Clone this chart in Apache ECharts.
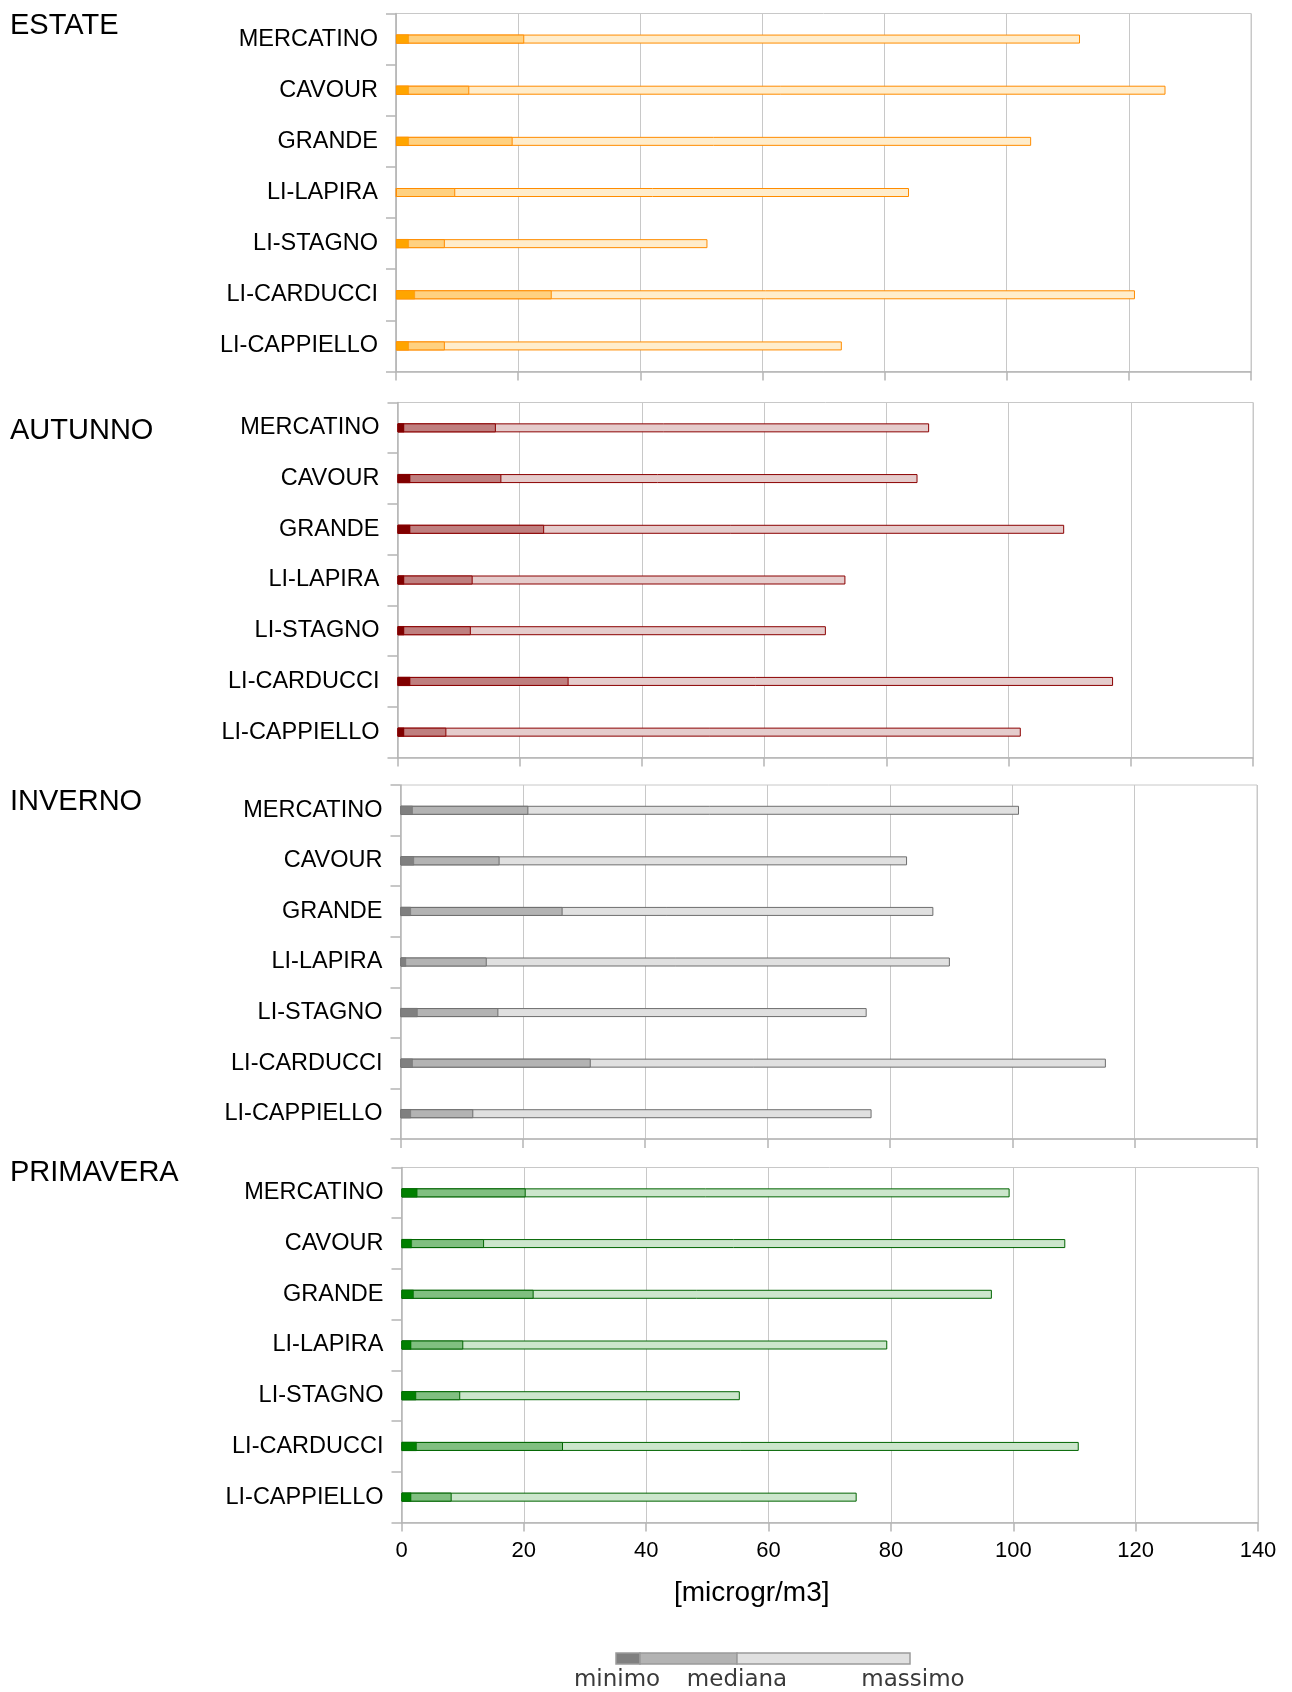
<!DOCTYPE html>
<html>
<head>
<meta charset="utf-8">
<script src="https://cdn.jsdelivr.net/npm/echarts@6/dist/echarts.min.js"></script>
<style>
  html, body { margin: 0; padding: 0; background: #fff; }
  #chart { width: 1292px; height: 1692px; }
</style>
</head>
<body>
<div id="chart"></div>
<script>
// ---- data ----
const categories = ['MERCATINO', 'CAVOUR', 'GRANDE', 'LI-LAPIRA', 'LI-STAGNO', 'LI-CARDUCCI', 'LI-CAPPIELLO'];
const seasons = ['ESTATE', 'AUTUNNO', 'INVERNO', 'PRIMAVERA'];
const legendLabels = ['minimo', 'mediana', 'massimo'];
const axisTitle = '[microgr/m3]';

const estateMin    = [2.1, 2.1, 2.1, 0, 2.1, 3.1, 2.1];
const estateMedian = [21.0, 12.0, 19.1, 9.7, 8.0, 25.5, 8.0];
const estateMax    = [112.0, 126.0, 104.0, 84.0, 51.0, 121.0, 73.0];

const autunnoMin    = [1.1, 2.1, 2.1, 1.1, 1.1, 2.1, 1.1];
const autunnoMedian = [16.1, 17.0, 24.0, 12.3, 12.0, 28.0, 8.0];
const autunnoMax    = [87.0, 85.1, 109.1, 73.3, 70.1, 117.1, 102.0];

const invernoMin    = [2.0, 2.2, 1.7, 0.9, 2.8, 2.0, 1.7];
const invernoMedian = [20.9, 16.2, 26.5, 14.1, 16.0, 31.1, 11.9];
const invernoMax    = [101.1, 82.8, 87.1, 89.8, 76.2, 115.3, 77.0];

const primaveraMin    = [2.6, 1.7, 2.0, 1.6, 2.4, 2.5, 1.6];
const primaveraMedian = [20.3, 13.5, 21.6, 10.1, 9.6, 26.4, 8.2];
const primaveraMax    = [99.4, 108.5, 96.5, 79.4, 55.3, 110.7, 74.4];

const xMin = 0, xMax = 140, xStep = 20;

// ---- layout & style ----
const seasonData = [
  [estateMin, estateMedian, estateMax],
  [autunnoMin, autunnoMedian, autunnoMax],
  [invernoMin, invernoMedian, invernoMax],
  [primaveraMin, primaveraMedian, primaveraMax]
];
const gridBoxes = [
  { left: 396,   right: 41, top: 13.5,  height: 358 },
  { left: 397.5, right: 39, top: 402.5, height: 355 },
  { left: 400.5, right: 35, top: 785,   height: 354 },
  { left: 401.5, right: 34, top: 1167.5, height: 355 }
];
const titleCenters = [25.5, 430.5, 801.5, 1173];
const palettes = [
  { min: '#ffa500', med: '#ffd180', max: '#ffedcc', border: '#ff8c00' },
  { min: '#800000', med: '#bf7f7f', max: '#e5cccc', border: '#8b0000' },
  { min: '#808080', med: '#b3b3b3', max: '#e0e0e0', border: '#6e6e6e' },
  { min: '#008000', med: '#80bf80', max: '#cce6cc', border: '#006400' }
];
const FONT = '"Liberation Sans", Arial, sans-serif';
const axisGray = '#b5b5b5';
const gridGray = '#c8c8c8';

const chart = echarts.init(document.getElementById('chart'), null, { renderer: 'canvas' });

const grid = gridBoxes.map(g => Object.assign({
  show: true, borderColor: gridGray, borderWidth: 1, backgroundColor: 'transparent', containLabel: false
}, g));

const xAxis = gridBoxes.map((g, i) => ({
  type: 'value', gridIndex: i, min: xMin, max: xMax, interval: xStep,
  axisLine: { show: true, lineStyle: { color: axisGray, width: 1.5 } },
  axisTick: { show: true, length: 9, lineStyle: { color: axisGray, width: 1.5 } },
  splitLine: { show: true, lineStyle: { color: gridGray, width: 1 } },
  axisLabel: { show: i === 3, fontSize: 22, color: '#000', margin: 17, fontFamily: FONT },
  name: i === 3 ? axisTitle : '',
  nameLocation: 'middle', nameGap: 57,
  nameTextStyle: { fontSize: 28, color: '#000', fontFamily: FONT, padding: [0, 156, 0, 0] }
}));

const yAxis = gridBoxes.map((g, i) => ({
  type: 'category', gridIndex: i, data: categories, inverse: true,
  axisLine: { show: true, lineStyle: { color: axisGray, width: 1.5 } },
  axisTick: { show: true, length: 10, lineStyle: { color: axisGray, width: 1.5 } },
  splitLine: { show: false },
  axisLabel: { fontSize: 23.5, color: '#000', margin: 18, fontFamily: FONT }
}));

const series = [];
seasonData.forEach((arrs, i) => {
  const p = palettes[i];
  const [mn, md, mx] = arrs;
  const base = { type: 'bar', xAxisIndex: i, yAxisIndex: i, barWidth: 9, barGap: '-100%', silent: true };
  series.push(Object.assign({}, base, { name: legendLabels[2], data: mx, z: 2,
    itemStyle: { color: p.max, borderColor: p.border, borderWidth: 1 } }));
  series.push(Object.assign({}, base, { name: legendLabels[1], data: md, z: 3,
    itemStyle: { color: p.med, borderColor: p.border, borderWidth: 1 } }));
  series.push(Object.assign({}, base, { name: legendLabels[0], data: mn, z: 4,
    itemStyle: { color: p.min, borderColor: p.border, borderWidth: 0.5 } }));
});

const title = seasons.map((s, i) => ({
  text: s, left: 10, top: titleCenters[i] - 14.5, padding: 0,
  textStyle: { fontSize: 29, fontWeight: 'normal', color: '#000', fontFamily: FONT, lineHeight: 29 }
}));

// legend key (graphic, not data marks)
const lgY = 1653, lgH = 11;
const lgSegs = [
  { x: 616, w: 24, fill: '#808080' },
  { x: 640, w: 97, fill: '#b3b3b3' },
  { x: 737, w: 173, fill: '#e0e0e0' }
];
const lgText = [617, 737, 913];
const graphic = [];
lgSegs.forEach(s => graphic.push({
  type: 'rect', shape: { x: s.x, y: lgY, width: s.w, height: lgH },
  style: { fill: s.fill, stroke: '#9a9a9a', lineWidth: 1.5 }
}));
legendLabels.forEach((t, i) => graphic.push({
  type: 'text', x: lgText[i], y: 1680,
  style: { text: t, fill: '#3a3a3a', font: '23px "DejaVu Sans", sans-serif', textAlign: 'center', textVerticalAlign: 'middle' }
}));

chart.setOption({
  animation: false,
  backgroundColor: '#fff',
  title, grid, xAxis, yAxis, series, graphic
});
</script>
</body>
</html>
